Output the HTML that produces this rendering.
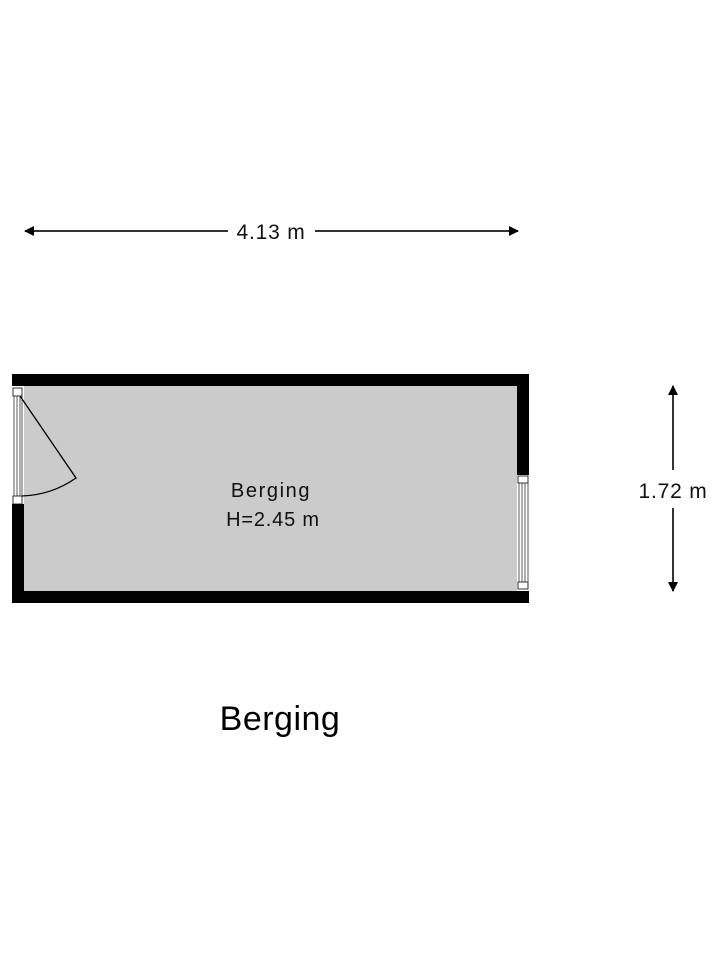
<!DOCTYPE html>
<html><head><meta charset="utf-8"><style>
html,body{margin:0;padding:0;background:#fff;}
svg{display:block;}
text{font-family:"Liberation Sans",sans-serif;}
</style></head><body>
<svg width="720" height="960" viewBox="0 0 720 960" xmlns="http://www.w3.org/2000/svg">
<defs>
<marker id="a" viewBox="0 0 10 10" refX="9" refY="5" markerWidth="14" markerHeight="10" orient="auto-start-reverse" markerUnits="userSpaceOnUse"><path d="M0,0L10,5L0,10z" fill="#000"/></marker>
</defs>
<line x1="25" y1="231" x2="228" y2="231" stroke="#333" stroke-width="2" marker-start="url(#a)"/>
<line x1="315" y1="231" x2="518" y2="231" stroke="#333" stroke-width="2" marker-end="url(#a)"/>
<text x="271" y="239" font-size="21" letter-spacing="0.8" text-anchor="middle" fill="#111">4.13 m</text>
<line x1="673" y1="386" x2="673" y2="470" stroke="#333" stroke-width="2" marker-start="url(#a)"/>
<line x1="673" y1="508" x2="673" y2="591" stroke="#333" stroke-width="2" marker-end="url(#a)"/>
<text x="673" y="498" font-size="21" letter-spacing="0.8" text-anchor="middle" fill="#111">1.72 m</text>
<rect x="12" y="374" width="517" height="229" fill="#000"/>
<rect x="24" y="386" width="493" height="205" fill="#cbcbcb"/>
<rect x="12" y="386" width="12" height="118" fill="#fff"/>
<rect x="13" y="388" width="9" height="8" fill="#fff" stroke="#000" stroke-width="0.8"/>
<rect x="13" y="496" width="9" height="8" fill="#fff" stroke="#000" stroke-width="0.8"/>
<g stroke="#333" stroke-width="0.8">
<line x1="14" y1="396" x2="14" y2="496"/><line x1="17" y1="396" x2="17" y2="496"/><line x1="20" y1="396" x2="20" y2="496"/><line x1="22" y1="396" x2="22" y2="496"/>
</g>
<path d="M20,396 L76,478 A100,100 0 0 1 22,496" fill="none" stroke="#000" stroke-width="1.3"/>
<rect x="517" y="475" width="12" height="116" fill="#fff"/>
<rect x="518" y="476" width="10" height="7" fill="#fff" stroke="#000" stroke-width="0.8"/>
<rect x="518" y="582" width="10" height="7" fill="#fff" stroke="#000" stroke-width="0.8"/>
<g stroke="#333" stroke-width="0.8">
<line x1="519" y1="483" x2="519" y2="582"/><line x1="522" y1="483" x2="522" y2="582"/><line x1="525" y1="483" x2="525" y2="582"/><line x1="528" y1="483" x2="528" y2="582"/>
</g>
<text x="271" y="497" font-size="20" letter-spacing="1.6" text-anchor="middle" fill="#111">Berging</text>
<text x="273" y="526" font-size="20" letter-spacing="0.8" text-anchor="middle" fill="#111">H=2.45 m</text>
<text x="280" y="730" font-size="34" letter-spacing="0.5" text-anchor="middle" fill="#000">Berging</text>
</svg>
</body></html>
